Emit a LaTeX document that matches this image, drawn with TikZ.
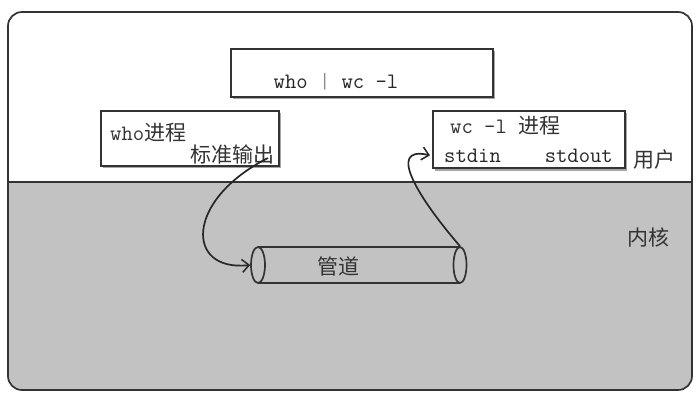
\documentclass[tikz,border=0pt]{standalone}
\usepackage{fontspec}
\setmainfont{Liberation Serif}
\newfontfamily\cjk{Noto Sans CJK SC}
\usetikzlibrary{arrows.meta,shapes.geometric}
\begin{document}
\begin{tikzpicture}[x=1pt,y=-1pt,
  ln/.style={draw=black!80, line width=1.7pt},
  boxst/.style={ln, fill=white},
  shadow/.style={draw=black!35, line width=2.5pt},
  lbl/.style={font=\fontsize{22}{24}\selectfont\ttfamily, text=black!85, inner sep=0pt},
  clbl/.style={font=\fontsize{21}{24}\selectfont\cjk, text=black!80, inner sep=0pt},
  arr/.style={draw=black!85, line width=1.7pt, -{Straight Barb[length=7pt,width=13pt,line width=1.5pt]}}
]
\useasboundingbox (0,0) rectangle (699,400);
% outer frame
\fill[black!24, rounded corners=14pt] (8,182) -- (692,182) -- (692,390) -- (8,390) -- cycle;
\fill[black!24] (8,182) rectangle (692,200);
\draw[ln, rounded corners=14pt] (8,12) rectangle (692,390);
\draw[ln] (8,182) -- (692,182);
% top command box
\draw[shadow] (233,98) -- (494,98) -- (494,51);
\node[boxst, minimum width=262pt, minimum height=48pt, anchor=north west, inner sep=0pt] (cmd) at (230,48) {};
\node[lbl, anchor=base] (cmdtxt) at (336,88) {who \textcolor{black!45}{|} wc -l};
% who process box
\draw[shadow] (103,167) -- (280,167) -- (280,113);
\node[boxst, minimum width=178pt, minimum height=55pt, anchor=north west, inner sep=0pt] (who) at (100,110) {};
\node[clbl, anchor=base west] (whot) at (110,140) {{\fontsize{22}{24}\selectfont\ttfamily who}进程};
\node[clbl, anchor=base east] (stdo) at (275,162) {标准输出};
% wc process box
\draw[shadow] (435,170) -- (626,170) -- (626,113);
\node[boxst, minimum width=192pt, minimum height=57pt, anchor=north west, inner sep=0pt] (wc) at (432,110) {};
\node[clbl, anchor=base west] (wct) at (450,133) {{\fontsize{22}{24}\selectfont\ttfamily wc -l }进程};
\node[lbl, anchor=base west] (stdin) at (444,162) {stdin};
\node[lbl, anchor=base east] (stdout) at (613,162) {stdout};
% region labels
\node[clbl, anchor=base west] (user) at (633,167) {用户};
\node[clbl, anchor=base west] (kern) at (627,245) {内核};
% pipe
\node[minimum width=202pt, minimum height=36pt, inner sep=0pt] (pipe) at (359,265) {};
\draw[ln] (258,247) -- (460,247);
\draw[ln] (258,283) -- (460,283);
\node[ln, ellipse, fill=black!24, minimum width=14pt, minimum height=36pt, inner sep=0pt] (lend) at (258,265) {};
\node[ln, ellipse, minimum width=13pt, minimum height=36pt, inner sep=0pt] (rend) at (460,265) {};
\node[clbl] (pipet) at (338,266) {管道};
% arrows
\coordinate (s1) at (268,158);
\coordinate (t2) at ([xshift=-2pt]wc.west |- stdin.center);
\draw[arr] (s1) .. controls (185,200) and (185,272) .. (lend.west);
\draw[arr] (rend.north) .. controls (420,200) and (385,145) .. (t2);
\end{tikzpicture}
\end{document}
